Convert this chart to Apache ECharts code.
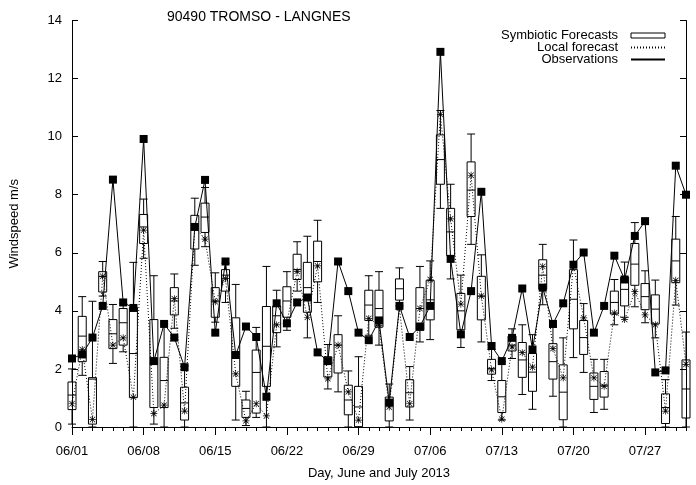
<!DOCTYPE html>
<html lang="en">

<head>
    <meta charset="UTF-8">
    <title>90490 TROMSO - LANGNES</title>
    <script src="https://cdn.jsdelivr.net/npm/echarts@6/dist/echarts.min.js"></script>
    <style>
        * {
            padding: 0;
            margin: 0;
        }

        html,
        body {
            width: 100%;
            height: 100%;
            background: #fff;
        }

        #chart {
            width: 696px;
            height: 485px;
        }
    </style>
</head>

<body>
    <div id="chart"></div>
</body>

</html>
<script>
    // days 06/01 .. 07/31
    let days = [];
    for (let i = 0; i <= 60; i++) {
        let d = new Date(2013, 5, 1 + i);
        days.push(String(d.getMonth() + 1).padStart(2, '0') + '/' + String(d.getDate()).padStart(2, '0'));
    }

    // box plot of the symbiotic forecasts
    let boxMin = [0.1, 1.78, 0, 4.51, 2.19, 2.59, 0, 5.81, 0.1, 0, 3.4, 0, 5.57, 6.21, 3.61, 4.29, 0.24, 0.05, 0.33, 0, 2.76,
        3.33, 4.68, 3.07, 4.29, 1.31, 1.21, 0, 0, 3.16, 2.82, 0, 4.17, 0.24, 2.93, 3.01, 7.53, 5.1, 2.74, 6.29, 2.93,
        1.6, 0.24, 2.36, 1.12, 0.61, 4.21, 1.06, 0, 2.39, 1.88, 0.5, 0.61, 3.52, 3.78, 4.14, 3.59, 3.07, 0, 4.2, 0];
    let boxQ1 = [0.6, 2.25, 0.1, 4.65, 2.7, 2.82, 1.01, 6.32, 0.67, 0.67, 3.86, 0.24, 6.13, 6.7, 3.78, 4.68, 1.4, 0.33, 0.48, 1.4, 3.25,
        3.78, 5.08, 3.95, 5.0, 1.72, 1.86, 0.42, 0.01, 3.67, 3.44, 0.21, 4.37, 0.69, 3.33, 3.69, 8.36, 5.9, 3.35, 7.25, 3.69,
        1.82, 0.5, 2.62, 1.71, 1.23, 4.74, 1.65, 0.25, 3.38, 2.5, 0.95, 1.03, 3.89, 4.17, 4.88, 4.04, 3.55, 0.12, 4.97, 0.31];
    let boxMed = [1.1, 3.13, 1.65, 5.19, 3.21, 3.59, 2.53, 6.89, 2.2, 1.6, 4.34, 0.83, 6.83, 7.23, 4.34, 5.23, 2.56, 0.64, 1.88, 2.78, 3.83,
        4.34, 5.42, 4.8, 5.7, 2.25, 2.82, 0.93, 0.69, 4.2, 4.08, 0.78, 4.76, 1.18, 4.08, 4.38, 9.21, 6.72, 4.0, 8.16, 4.51,
        2.02, 1.04, 2.82, 2.31, 1.89, 5.23, 2.25, 1.2, 4.4, 3.08, 1.4, 1.44, 4.29, 4.74, 5.61, 4.49, 4.06, 0.67, 5.72, 1.31];
    let boxQ3 = [1.55, 3.81, 1.7, 5.35, 3.7, 4.08, 4.12, 7.32, 3.7, 2.4, 4.8, 1.37, 7.29, 7.71, 4.8, 5.42, 3.76, 0.93, 2.65, 4.15, 4.17,
        4.83, 5.95, 5.67, 6.4, 2.42, 3.18, 1.44, 1.4, 4.71, 4.71, 1.03, 5.1, 1.63, 4.8, 5.05, 10.06, 7.53, 4.6, 9.13, 5.19,
        2.33, 1.6, 3.13, 2.91, 2.53, 5.76, 2.87, 2.14, 5.42, 3.67, 1.86, 1.91, 4.68, 5.16, 6.32, 4.94, 4.55, 1.14, 6.47, 2.31];
    let boxMax = [2.0, 4.49, 4.33, 5.7, 4.22, 4.26, 5.67, 7.85, 5.21, 3.55, 5.27, 2.1, 7.88, 8.25, 5.31, 5.64, 4.91, 1.23, 3.43, 5.53, 4.71,
        5.35, 6.38, 6.57, 7.12, 2.84, 3.83, 1.93, 2.42, 5.21, 5.35, 1.48, 5.48, 2.08, 5.53, 5.72, 10.9, 8.36, 5.23, 10.09, 5.93,
        2.67, 2.25, 3.38, 3.52, 3.18, 6.29, 3.44, 3.07, 6.44, 4.25, 2.33, 2.33, 5.08, 5.68, 7.04, 5.38, 5.06, 1.63, 7.25, 3.27];

    // local forecast
    let localFc = [0.8, 2.67, 0.26, 5.19, 2.82, 3.07, 1.03, 6.78, 0.46, 0.75, 4.42, 0.55, 6.89, 6.47, 4.31, 5.11, 1.83, 0.21, 0.8, 0.38, 3.52,
        3.61, 5.36, 3.78, 5.55, 1.66, 2.82, 1.21, 0.24, 3.74, 3.5, 0.69, 4.1, 0.8, 4.08, 5.08, 10.77, 7.17, 4.23, 8.67, 4.51,
        1.97, 0.27, 2.76, 2.56, 2.06, 5.53, 2.7, 1.69, 5.59, 3.76, 1.69, 1.4, 3.93, 3.7, 4.66, 3.86, 3.52, 0.55, 5.05, 2.16];

    // observations
    let observed = [2.36, 2.5, 3.08, 4.17, 8.52, 4.29, 4.1, 9.92, 2.27, 3.55, 3.08, 2.06, 6.89, 8.51, 3.25, 5.7, 2.48, 3.46, 3.1, 1.04, 4.26,
        3.57, 4.29, 4.46, 2.57, 2.27, 5.7, 4.68, 3.25, 2.99, 3.67, 0.84, 4.17, 3.1, 3.46, 4.17, 12.92, 5.79, 3.19, 4.68, 8.1,
        2.79, 2.27, 3.07, 4.77, 2.67, 4.8, 3.55, 4.26, 5.59, 6.01, 3.25, 4.17, 5.9, 5.08, 6.58, 7.09, 1.88, 1.95, 9.0, 8.0];

    let boxData = [];
    for (let i = 0; i < days.length; i++) {
        boxData.push([boxMin[i], boxQ1[i], boxMed[i], boxQ3[i], boxMax[i]]);
    }

    // asterisk made from four thin bars
    const asterisk = 'path://M0 4.5L10 4.5L10 5.5L0 5.5Z M4.5 0L5.5 0L5.5 10L4.5 10Z ' +
        'M1.5 0.8L9.2 8.5L8.5 9.2L0.8 1.5Z M8.5 0.8L9.2 1.5L1.5 9.2L0.8 8.5Z';

    const font = 'Liberation Sans';
    var myChart = echarts.init(document.getElementById('chart'));
    option = {
        animation: false,
        textStyle: { fontFamily: font, color: '#000' },
        title: {
            text: '90490 TROMSO - LANGNES',
            left: 162,
            top: 5,
            textStyle: { fontFamily: font, fontSize: 14, fontWeight: 'normal', color: '#000' }
        },
        legend: {
            orient: 'vertical',
            align: 'right',
            right: 25,
            top: 24,
            itemWidth: 34,
            itemHeight: 5,
            itemGap: -1,
            textStyle: { fontFamily: font, fontSize: 13, color: '#000', lineHeight: 11, padding: [0, 8, 0, 0] },
            data: [
                { name: 'Symbiotic Forecasts', icon: 'rect', itemStyle: { color: 'rgba(0,0,0,0)', borderColor: '#000', borderWidth: 1 } },
                { name: 'Local forecast', itemStyle: { opacity: 0 } },
                { name: 'Observations', itemStyle: { opacity: 0 } }
            ]
        },
        grid: { left: 66, right: 10, top: 20.5, bottom: 52 },
        xAxis: [
            {
                type: 'category',
                data: days,
                boundaryGap: false,
                name: 'Day, June and July 2013',
                nameLocation: 'middle',
                nameGap: 40,
                nameTextStyle: { fontFamily: font, fontSize: 13, color: '#000' },
                axisLine: { lineStyle: { color: '#000', width: 1 } },
                axisTick: { interval: 6, length: 8, lineStyle: { color: '#000' } },
                axisLabel: { interval: 6, fontFamily: font, fontSize: 13, color: '#000', margin: 18 },
                splitLine: { show: false }
            },
            {
                type: 'category',
                data: days,
                boundaryGap: false,
                position: 'bottom',
                axisLine: { show: false },
                axisTick: { interval: 0, length: 4, lineStyle: { color: '#000' } },
                axisLabel: { show: false },
                splitLine: { show: false }
            }
        ],
        yAxis: [
            {
                type: 'value',
                min: 0,
                max: 14,
                interval: 2,
                name: 'Windspeed m/s',
                nameLocation: 'middle',
                nameGap: 51,
                nameTextStyle: { fontFamily: font, fontSize: 13, color: '#000' },
                axisLine: { show: true, lineStyle: { color: '#000', width: 1 } },
                axisTick: { show: true, inside: true, length: 6, lineStyle: { color: '#000' } },
                axisLabel: { fontFamily: font, fontSize: 13, color: '#000', margin: 10 },
                splitLine: { show: false }
            },
            {
                type: 'value',
                position: 'right',
                min: 0,
                max: 14,
                interval: 2,
                axisLine: { show: true, lineStyle: { color: '#000', width: 1 } },
                axisTick: { show: true, inside: true, length: 6, lineStyle: { color: '#000' } },
                axisLabel: { show: false },
                splitLine: { show: false }
            }
        ],
        series: [
            {
                name: 'Symbiotic Forecasts',
                type: 'boxplot',
                data: boxData,
                boxWidth: [8, 8],
                itemStyle: { color: 'rgba(0,0,0,0)', borderColor: '#000', borderWidth: 1 },
                z: 1
            },
            {
                name: 'Local forecast',
                type: 'line',
                data: localFc,
                symbol: asterisk,
                symbolSize: 7,
                showAllSymbol: true,
                itemStyle: { color: '#000' },
                lineStyle: { color: '#000', width: 1, type: [1, 2] },
                z: 2
            },
            {
                name: 'Observations',
                type: 'line',
                data: observed,
                symbol: 'rect',
                symbolSize: 8,
                showAllSymbol: true,
                itemStyle: { color: '#000' },
                lineStyle: { color: '#000', width: 1 },
                z: 3
            }
        ]
    };
    myChart.setOption(option);
</script>
